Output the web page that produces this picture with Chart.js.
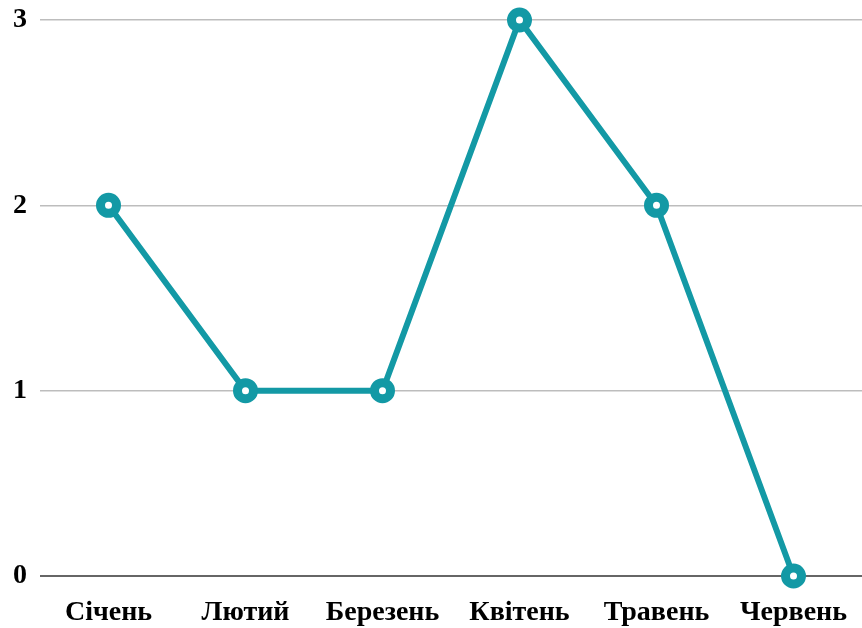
<!DOCTYPE html>
<html lang="uk">
<head>
    <meta charset="UTF-8">
    <title>Графік</title>
    <script src="https://cdn.jsdelivr.net/npm/chart.js"></script>
    <style>
        html, body { margin: 0; padding: 0; background: #fff; }
        .wrap { width: 862px; height: 628px; }
    </style>
</head>
<body>
    <div class="wrap"><canvas id="chart"></canvas></div>

<script>
    // Місяці та значення
    const months = ['Січень', 'Лютий', 'Березень', 'Квітень', 'Травень', 'Червень'];
    const values = [2, 1, 1, 3, 2, 0];
    const yTicks = [0, 1, 2, 3];

    const teal = '#1399a5';
    const font = { family: '"Liberation Serif", "Times New Roman", serif', size: 28, weight: 'bold', lineHeight: 1 };

    const ctx = document.getElementById('chart').getContext('2d');

    new Chart(ctx, {
        type: 'line',
        data: {
            labels: months,
            datasets: [{
                data: values,
                borderColor: teal,
                borderWidth: 6,
                pointRadius: 8,
                pointBorderWidth: 9,
                pointBackgroundColor: '#fff',
                pointBorderColor: teal,
                tension: 0,
                clip: false
            }]
        },
        options: {
            responsive: true,
            maintainAspectRatio: false,
            animation: false,
            layout: { autoPadding: false, padding: { top: 20, left: 0, right: 0, bottom: 2 } },
            plugins: { legend: { display: false }, tooltip: { enabled: false } },
            scales: {
                x: {
                    offset: true,
                    grid: { display: false, drawTicks: false },
                    border: { display: false },
                    ticks: { color: '#000', font: font, padding: 23, maxRotation: 0 },
                    // без зайвих відступів по краях
                    afterFit: axis => { axis.paddingLeft = 0; axis.paddingRight = 0; axis.height = 50; }
                },
                y: {
                    min: 0,
                    max: 3,
                    afterBuildTicks: axis => { axis.ticks = yTicks.map(v => ({ value: v })); },
                    grid: {
                        drawTicks: false,
                        color: c => c.tick && c.tick.value === 0 ? '#666' : '#bdbdbd',
                        lineWidth: c => c.tick && c.tick.value === 0 ? 2 : 1.5
                    },
                    border: { display: false },
                    ticks: { color: '#000', font: font, padding: 13 },
                    afterFit: axis => { axis.paddingTop = 0; axis.paddingBottom = 0; }
                }
            }
        }
    });
</script>
</body>
</html>
